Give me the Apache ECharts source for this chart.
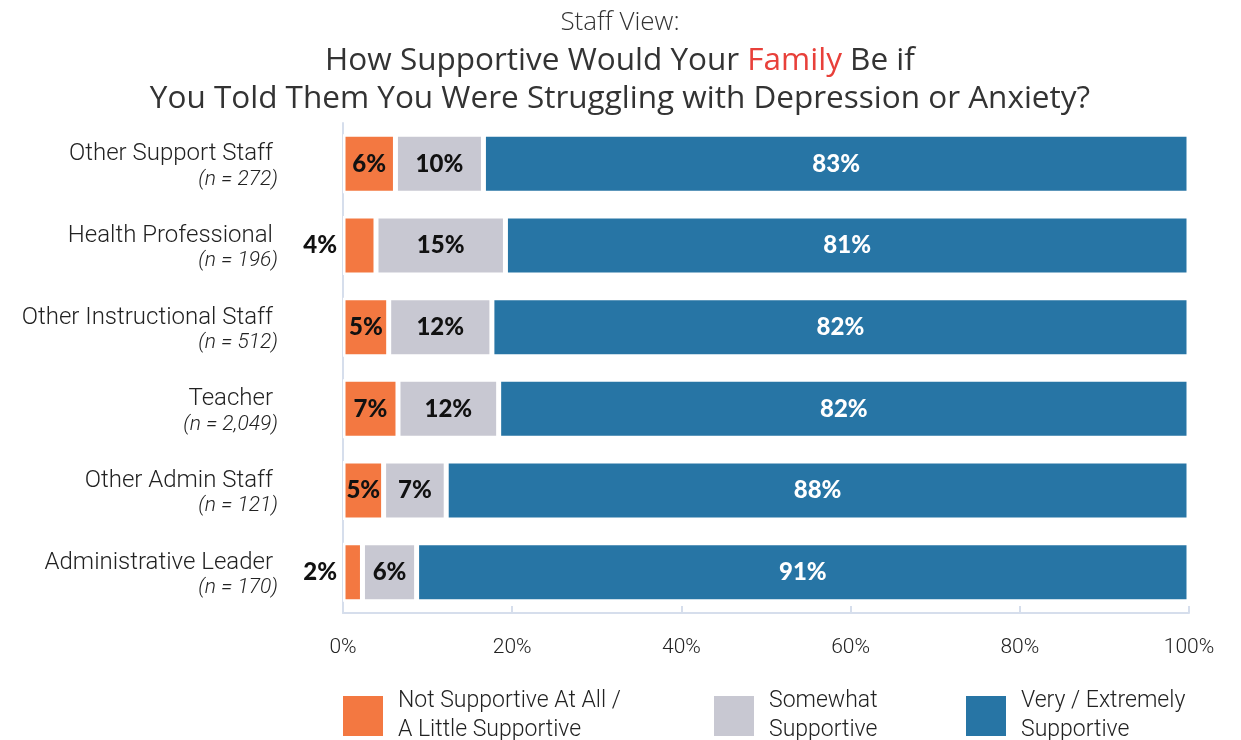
<!DOCTYPE html>
<html>
<head>
<meta charset="utf-8">
<script src="https://cdn.jsdelivr.net/npm/echarts@6/dist/echarts.min.js"></script>
<style>html,body{margin:0;padding:0;background:#fff;}#c{width:1241px;height:740px;}</style>
</head>
<body>
<div id="c"></div>
<script>
const categories = ['Other Support Staff', 'Health Professional', 'Other Instructional Staff', 'Teacher', 'Other Admin Staff', 'Administrative Leader'];
const sampleSizes = ['(n = 272)', '(n = 196)', '(n = 512)', '(n = 2,049)', '(n = 121)', '(n = 170)'];
const seriesNames = ['Not Supportive At All /\nA Little Supportive', 'Somewhat\nSupportive', 'Very / Extremely\nSupportive'];
const notSupportive = [6.2, 3.9, 5.4, 6.5, 4.8, 2.3];
const somewhatSupportive = [10.4, 15.3, 12.2, 11.9, 7.4, 6.4];
const verySupportive = [83.4, 80.8, 82.4, 81.6, 87.8, 91.3];
const xTicks = [0, 20, 40, 60, 80, 100];

const colors = ['#F37841', '#C8C8D2', '#2775A5'];
const outsideThreshold = 4;

const chart = echarts.init(document.getElementById('c'));

function makeData(arr, idx) {
  return arr.map(v => {
    if (idx === 0 && v < outsideThreshold) {
      return { value: v, label: { position: 'left', distance: 6 } };
    }
    return v;
  });
}

const labelBase = {
  show: true,
  position: 'inside',
  fontFamily: 'Lato',
  fontWeight: 900,
  fontSize: 24,
  formatter: p => Math.round(p.value) + '%'
};

const seriesData = [notSupportive, somewhatSupportive, verySupportive];
const series = seriesData.map((arr, i) => ({
  name: seriesNames[i],
  type: 'bar',
  stack: 'total',
  barWidth: 59,
  data: makeData(arr, i),
  itemStyle: { color: colors[i], borderColor: '#fff', borderWidth: 2.5 },
  label: Object.assign({}, labelBase, { color: i === 2 ? '#fff' : '#111' }),
  emphasis: { disabled: true }
}));

const legendLefts = [343, 714, 966];
const legends = seriesNames.map((n, i) => ({
  data: [n],
  left: legendLefts[i],
  top: 687,
  padding: 0,
  icon: 'rect',
  itemWidth: 40,
  itemHeight: 40,
  itemStyle: { borderWidth: 0 },
  selectedMode: false,
  textStyle: {
    fontFamily: 'Roboto',
    fontWeight: 300,
    fontSize: 23,
    lineHeight: 29,
    color: '#222',
    padding: [0, 0, 0, 10]
  }
}));

chart.setOption({
  animation: false,
  graphic: [{
    type: 'text',
    x: 620,
    y: 4,
    style: {
      align: 'center',
      verticalAlign: 'top',
      text: '{a|Staff View:}\n{b|How Supportive Would Your }{r|Family}{b| Be if}\n{b|You Told Them You Were Struggling with Depression or Anxiety?}',
      rich: {
        a: { fontFamily: 'Open Sans', fontWeight: 300, fontSize: 26, lineHeight: 38, fill: '#333' },
        b: { fontFamily: 'Open Sans', fontWeight: 500, fontSize: 31.5, lineHeight: 38, fill: '#333' },
        r: { fontFamily: 'Open Sans', fontWeight: 500, fontSize: 31.5, lineHeight: 38, fill: '#E8403A' }
      }
    }
  }],
  legend: legends,
  grid: { left: 343, right: 52, top: 123, bottom: 127, containLabel: false },
  xAxis: {
    type: 'value',
    min: xTicks[0],
    max: xTicks[xTicks.length - 1],
    interval: 20,
    axisLine: { show: true, lineStyle: { color: '#D6DEEC', width: 2 } },
    axisTick: { show: true, inside: true, length: 7, lineStyle: { color: '#D6DEEC', width: 2 } },
    splitLine: { show: false },
    axisLabel: {
      margin: 24,
      fontFamily: 'Roboto',
      fontWeight: 300,
      fontSize: 21,
      color: '#222',
      formatter: '{value}%'
    }
  },
  yAxis: {
    type: 'category',
    inverse: true,
    data: categories,
    axisLine: { show: true, lineStyle: { color: '#D6DEEC', width: 2 } },
    axisTick: { show: false },
    axisLabel: {
      margin: 65,
      align: 'right',
      formatter: (v, i) => '{a|' + v + '}\n{b|' + sampleSizes[i] + '}',
      rich: {
        a: { fontFamily: 'Roboto', fontWeight: 300, fontSize: 24, lineHeight: 27, color: '#222', align: 'right', padding: [6, 5, 0, 0] },
        b: { fontFamily: 'Roboto', fontWeight: 300, fontStyle: 'italic', fontSize: 21, lineHeight: 25, color: '#222', align: 'right', padding: [4, 0, 0, 0] }
      }
    }
  },
  series: series
});
</script>
</body>
</html>
